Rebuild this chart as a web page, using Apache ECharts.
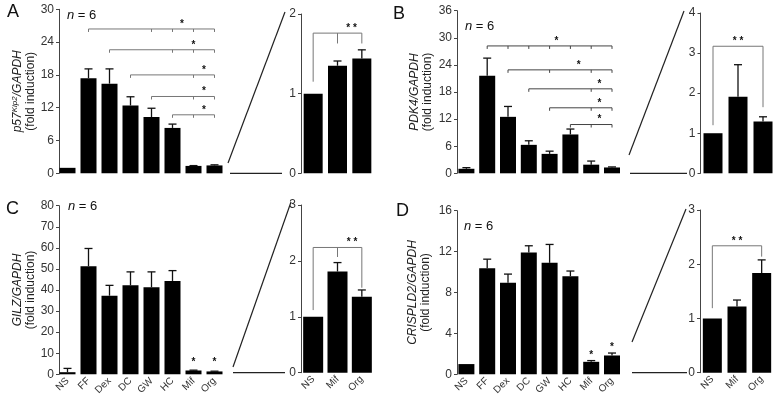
<!DOCTYPE html>
<html><head><meta charset="utf-8">
<script src="https://cdn.jsdelivr.net/npm/echarts@6/dist/echarts.min.js"></script>
<style>html,body{margin:0;padding:0;background:#fff}#c{width:777px;height:400px}</style>
</head><body><div id="c"></div>
<script>
// ---------- DATA ----------
const categories = ['NS', 'FF', 'Dex', 'DC', 'GW', 'HC', 'Mif', 'Org'];
const insetCategories = ['NS', 'Mif', 'Org'];

const aValues = [1.0, 17.4, 16.4, 12.4, 10.3, 8.3, 1.35, 1.44];
const aErrors = [0, 1.7, 2.7, 1.6, 1.6, 0.7, 0.06, 0.11];
const aInsetValues = [1.0, 1.35, 1.44];
const aInsetErrors = [0, 0.06, 0.11];

const bValues = [1.0, 21.6, 12.5, 6.3, 4.3, 8.6, 1.91, 1.29];
const bErrors = [0.25, 3.9, 2.3, 0.9, 0.6, 1.2, 0.8, 0.12];
const bInsetValues = [1.0, 1.91, 1.29];
const bInsetErrors = [0, 0.8, 0.12];

const cValues = [1.0, 51.3, 37.3, 42.2, 41.3, 44.3, 1.81, 1.36];
const cErrors = [1.8, 8.4, 4.9, 6.4, 7.3, 4.9, 0.16, 0.12];
const cInsetValues = [1.0, 1.81, 1.36];
const cInsetErrors = [0, 0.16, 0.12];

const dValues = [1.0, 10.36, 8.96, 11.92, 10.9, 9.6, 1.22, 1.84];
const dErrors = [0, 0.9, 0.84, 0.65, 1.8, 0.5, 0.12, 0.24];
const dInsetValues = [1.0, 1.22, 1.84];
const dInsetErrors = [0, 0.12, 0.24];

// y-axis scales [max, interval]
const aScale = [30, 6], aInsetScale = [2, 1];
const bScale = [36, 6], bInsetScale = [4, 1];
const cScale = [80, 10], cInsetScale = [3, 1];
const dScale = [16, 4], dInsetScale = [3, 1];

// significance brackets: from/to category index, level, tick categories, star position (category index)
const aBrackets = [
  {from: 1, to: 7, y: 26.4, ticks: [4, 5, 6], star: 5.45, text: '*'},
  {from: 2, to: 7, y: 22.6, ticks: [5, 6], star: 6, text: '*'},
  {from: 3, to: 7, y: 18.0, ticks: [6], star: 6.5, text: '*'},
  {from: 4, to: 7, y: 14.05, ticks: [6], star: 6.5, text: '*'},
  {from: 5, to: 7, y: 10.7, ticks: [6], star: 6.5, text: '*'}
];
const bBrackets = [
  {from: 1, to: 7, y: 28.2, ticks: [2, 3, 4, 5, 6], star: 4.33, text: '*'},
  {from: 2, to: 7, y: 22.9, ticks: [4, 6], star: 5.4, text: '*'},
  {from: 3, to: 7, y: 18.7, ticks: [6], star: 6.4, text: '*'},
  {from: 4, to: 7, y: 14.5, ticks: [6], star: 6.4, text: '*'},
  {from: 5, to: 7, y: 10.8, ticks: [6], star: 6.4, text: '*'}
];
const cBrackets = [];
const dBrackets = [];
// inset brackets: legs drop to given levels
const aInsetBrackets = [{from: 0, to: 2, y: 1.76, leftTo: 1.15, rightTo: 1.63, mid: [[1, 1.63]], star: 1.58, text: '* *'}];
const bInsetBrackets = [{from: 0, to: 2, y: 3.17, leftTo: 1.2, rightTo: 1.65, mid: [], star: 1.0, text: '* *'}];
const cInsetBrackets = [{from: 0, to: 2, y: 2.24, leftTo: 1.12, rightTo: 1.52, mid: [[1, 2.07]], star: 1.6, text: '* *'}];
const dInsetBrackets = [{from: 0, to: 2, y: 2.34, leftTo: 1.19, rightTo: 2.14, mid: [], star: 1.0, text: '* *'}];

// single stars above bars [category index, level]
const cStars = [[6, 6.8], [7, 6.8]];
const dStars = [[6, 2.1], [7, 2.87]];

// ---------- LAYOUT / STYLE ----------
const FONT = 'Liberation Sans, Arial, sans-serif';
const panels = [
  {g: {left: 57, top: 9.3, width: 168, height: 164}, cats: categories, v: aValues, e: aErrors, s: aScale, br: aBrackets, st: [], showX: false, bw: 16, off: -2, bc: '#777',
   name: '{i|p57}{s|Kip2}{i|/GAPDH}\n{r|(fold induction)}', gap: 21},
  {g: {left: 301, top: 14, width: 73, height: 159.3}, cats: insetCategories, v: aInsetValues, e: aInsetErrors, s: aInsetScale, br: aInsetBrackets, st: [], showX: false, bw: 19, off: 0, bc: '#777'},
  {g: {left: 456, top: 10.7, width: 166.4, height: 162.6}, cats: categories, v: bValues, e: bErrors, s: bScale, br: bBrackets, st: [], showX: false, bw: 16, off: -1, bc: '#444',
   name: '{i|PDK4/GAPDH}\n{r|(fold induction)}', gap: 23},
  {g: {left: 700.5, top: 13, width: 75, height: 160.3}, cats: insetCategories, v: bInsetValues, e: bInsetErrors, s: bInsetScale, br: bInsetBrackets, st: [], showX: false, bw: 19, off: 0, bc: '#777'},
  {g: {left: 57, top: 205.7, width: 168, height: 168.6}, cats: categories, v: cValues, e: cErrors, s: cScale, br: cBrackets, st: cStars, showX: true, bw: 16, off: -2, bc: '#777',
   name: '{i|GILZ/GAPDH}\n{r|(fold induction)}', gap: 21},
  {g: {left: 301, top: 205, width: 73, height: 167.7}, cats: insetCategories, v: cInsetValues, e: cInsetErrors, s: cInsetScale, br: cInsetBrackets, st: [], showX: true, bw: 20, off: 0, bc: '#777'},
  {g: {left: 456, top: 210.7, width: 166.4, height: 163.6}, cats: categories, v: dValues, e: dErrors, s: dScale, br: dBrackets, st: dStars, showX: true, bw: 16, off: -1, bc: '#777',
   name: '{i|CRISPLD2/GAPDH}\n{r|(fold induction)}', gap: 25},
  {g: {left: 700, top: 210, width: 74, height: 162.7}, cats: insetCategories, v: dInsetValues, e: dInsetErrors, s: dInsetScale, br: dInsetBrackets, st: [], showX: true, bw: 19, off: 0, bc: '#777'}
];

const nameRich = {
  i: {fontStyle: 'italic', fontSize: 12, lineHeight: 13, color: '#222', fontFamily: FONT},
  s: {fontStyle: 'italic', fontSize: 8, lineHeight: 13, verticalAlign: 'top', color: '#222', fontFamily: FONT},
  r: {fontSize: 12, lineHeight: 13, color: '#222', fontFamily: FONT}
};

const grids = [], xAxes = [], yAxes = [], series = [];
panels.forEach((p, k) => {
  grids.push(Object.assign({containLabel: false}, p.g));
  xAxes.push({
    type: 'category', gridIndex: k, data: p.cats,
    axisLine: {show: false}, axisTick: {show: false},
    axisLabel: {show: p.showX, rotate: 45, interval: 0, fontSize: 10, color: '#333', margin: 5, fontFamily: FONT}
  });
  yAxes.push({
    type: 'value', gridIndex: k, min: 0, max: p.s[0], interval: p.s[1], offset: p.off,
    axisLine: {show: true, lineStyle: {color: '#444', width: 1}},
    axisTick: {show: true, length: 3, lineStyle: {color: '#444'}},
    splitLine: {show: false},
    axisLabel: {fontSize: 12, color: '#333', margin: 5, fontFamily: FONT},
    name: p.name || '', nameLocation: 'middle', nameRotate: 90, nameGap: p.gap || 20,
    nameTextStyle: {rich: nameRich, fontFamily: FONT}
  });
  series.push({
    type: 'bar', xAxisIndex: k, yAxisIndex: k, data: p.v, barWidth: p.bw,
    itemStyle: {color: '#000'}, silent: true, animation: false
  });
  // error bars
  series.push({
    type: 'custom', xAxisIndex: k, yAxisIndex: k, animation: false, silent: true, z: 5,
    data: p.v.map((v, i) => [i, v, p.e[i]]),
    encode: {x: 0, y: 1},
    renderItem: (params, api) => {
      const i = api.value(0), v = api.value(1), e = api.value(2);
      if (!e) return null;
      const a = api.coord([i, v]), b = api.coord([i, v + e]);
      const stl = {stroke: '#111', lineWidth: 1.3};
      return {type: 'group', children: [
        {type: 'line', shape: {x1: a[0], y1: a[1], x2: b[0], y2: b[1]}, style: stl},
        {type: 'line', shape: {x1: b[0] - 4, y1: b[1], x2: b[0] + 4, y2: b[1]}, style: stl}
      ]};
    }
  });
  // brackets
  if (p.br.length) {
    const list = p.br, col = p.bc;
    series.push({
      type: 'custom', xAxisIndex: k, yAxisIndex: k, animation: false, silent: true, z: 6,
      data: list.map(b => [b.from, b.y]),
      encode: {x: 0, y: 1},
      renderItem: (params, api) => {
        const b = list[params.dataIndex];
        const bw = api.size([1, 0])[0];
        const p1 = api.coord([b.from, b.y]), p2 = api.coord([b.to, b.y]);
        const stl = {stroke: col, lineWidth: 1};
        const ch = [{type: 'line', shape: {x1: p1[0], y1: p1[1], x2: p2[0], y2: p2[1]}, style: stl}];
        if (b.leftTo !== undefined) {
          const l = api.coord([b.from, b.leftTo]), r = api.coord([b.to, b.rightTo]);
          ch.push({type: 'line', shape: {x1: p1[0], y1: p1[1], x2: l[0], y2: l[1]}, style: stl});
          ch.push({type: 'line', shape: {x1: p2[0], y1: p2[1], x2: r[0], y2: r[1]}, style: stl});
          b.mid.forEach(m => {
            const t = api.coord([m[0], b.y]), u = api.coord([m[0], m[1]]);
            ch.push({type: 'line', shape: {x1: t[0], y1: t[1], x2: u[0], y2: u[1]}, style: stl});
          });
        } else {
          [b.from, b.to].concat(b.ticks).forEach(t => {
            const c = api.coord([t, b.y]);
            ch.push({type: 'line', shape: {x1: c[0], y1: c[1], x2: c[0], y2: c[1] + 3}, style: stl});
          });
        }
        const fi = Math.floor(b.star), fr = b.star - fi;
        const sc = api.coord([fi, b.y]);
        ch.push({type: 'text', style: {text: b.text, x: sc[0] + fr * bw, y: sc[1] - 5, textAlign: 'center', textVerticalAlign: 'middle', font: 'bold 10px ' + FONT, fill: '#111'}});
        return {type: 'group', children: ch};
      }
    });
  }
  if (p.st.length) {
    series.push({
      type: 'custom', xAxisIndex: k, yAxisIndex: k, animation: false, silent: true, z: 6,
      data: p.st, encode: {x: 0, y: 1},
      renderItem: (params, api) => {
        const c = api.coord([api.value(0), api.value(1)]);
        return {type: 'text', style: {text: '*', x: c[0], y: c[1] + 2, textAlign: 'center', textVerticalAlign: 'middle', font: 'bold 10px ' + FONT, fill: '#111'}};
      }
    });
  }
});

// decorations: panel letters, n labels, zoom connector lines
const letters = [['A', 7, 3], ['B', 393, 5], ['C', 6, 200], ['D', 396, 202]];
const nLabels = [[67, 9], [465, 20], [68, 200], [464, 220]];
const connectors = [
  [228, 163, 285, 12, 230, 282, 173.3],
  [629, 155, 684, 11, 630, 687, 173.3],
  [233, 367, 291, 202, 233, 285, 372.7],
  [632, 342, 686, 209, 632, 687, 372.7]
];
const graphic = [];
letters.forEach(l => graphic.push({type: 'text', left: l[1], top: l[2], style: {text: l[0], font: '18px ' + FONT, fill: '#111'}}));
nLabels.forEach(n => graphic.push({type: 'text', left: n[0], top: n[1], style: {text: '{i|n} = 6', font: '13px ' + FONT, fill: '#111', rich: {i: {fontStyle: 'italic', fontSize: 13, fontFamily: FONT}}}}));
connectors.forEach(c => {
  graphic.push({type: 'line', shape: {x1: c[0], y1: c[1], x2: c[2], y2: c[3]}, style: {stroke: '#222', lineWidth: 1.2}});
  graphic.push({type: 'line', shape: {x1: c[4], y1: c[6], x2: c[5], y2: c[6]}, style: {stroke: '#222', lineWidth: 1.2}});
});

const chart = echarts.init(document.getElementById('c'), null, {renderer: 'canvas'});
chart.setOption({
  animation: false,
  backgroundColor: '#fff',
  textStyle: {fontFamily: FONT},
  grid: grids, xAxis: xAxes, yAxis: yAxes, series: series, graphic: graphic
});
</script></body></html>
